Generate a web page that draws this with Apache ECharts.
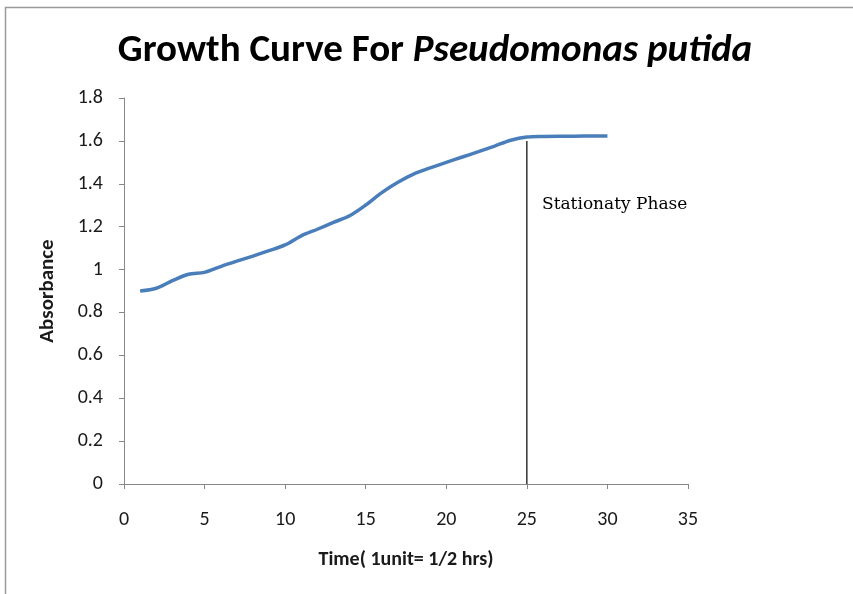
<!DOCTYPE html>
<html>
<head>
<meta charset="UTF-8">
<title>Growth Curve</title>
<script src="https://cdn.jsdelivr.net/npm/echarts@6/dist/echarts.min.js"></script>
<style>
  body { margin: 0; background: #fff; }
  #container { width: 853px; height: 594px; }
</style>
</head>
<body>
<div id="container"></div>
<script>
// time units (1 unit = 1/2 hr) and absorbance
var times = [1, 2, 3, 4, 5, 6, 7, 8, 9, 10, 11, 12, 13, 14, 15, 16, 17, 18, 19, 20, 21, 22, 23, 24, 25, 26, 27, 28, 29, 30];
var absorbance = [0.90, 0.913, 0.948, 0.978, 0.987, 1.014, 1.039, 1.063, 1.088, 1.115, 1.157, 1.188, 1.22, 1.251, 1.301, 1.359, 1.407, 1.446, 1.474, 1.50, 1.525, 1.55, 1.576, 1.603, 1.618, 1.621, 1.622, 1.622, 1.623, 1.623];
var phaseX = [25, 25];
var phaseY = [0, 1.6];
var xTicks = [0, 5, 10, 15, 20, 25, 30, 35];
var yTicks = [0, 0.2, 0.4, 0.6, 0.8, 1, 1.2, 1.4, 1.6, 1.8];

var font = "Carlito, 'Liberation Sans Narrow', 'Open Sans', sans-serif";
var chart = echarts.init(document.getElementById('container'));

var curve = times.map(function (t, i) { return [t, absorbance[i]]; });
var phase = phaseX.map(function (t, i) { return [t, phaseY[i]]; });

chart.setOption({
    backgroundColor: '#fff',
    animation: false,
    title: {
        text: '{n|Growth Curve For }{i|Pseudomonas putida}',
        left: 430,
        textAlign: 'center',
        top: 27,
        textStyle: {
            rich: {
                n: { fontFamily: font, fontSize: 39, fontWeight: 'bold', color: '#000' },
                i: { fontFamily: font, fontSize: 39, fontWeight: 'bold', fontStyle: 'italic', color: '#000' }
            }
        }
    },
    grid: { left: 124, right: 165, top: 98, bottom: 110 },
    xAxis: {
        type: 'value',
        min: 0, max: 35, interval: 5,
        name: 'Time( 1unit= 1/2 hrs)',
        nameLocation: 'middle',
        nameGap: 66,
        nameTextStyle: { fontFamily: font, fontSize: 20, fontWeight: 'bold', color: '#1a1a1a' },
        axisLine: { lineStyle: { color: '#888', width: 1 } },
        axisTick: { show: true, length: 5, lineStyle: { color: '#888' } },
        axisLabel: {
            margin: 26, fontFamily: font, fontSize: 20, color: '#1a1a1a',
            formatter: function (v) { return xTicks.indexOf(v) >= 0 ? String(v) : ''; }
        },
        splitLine: { show: false }
    },
    yAxis: {
        type: 'value',
        min: 0, max: 1.8, interval: 0.2,
        name: 'Absorbance',
        nameLocation: 'middle',
        nameGap: 66,
        nameTextStyle: { fontFamily: font, fontSize: 21, fontWeight: 'bold', color: '#1a1a1a' },
        axisLine: { show: true, lineStyle: { color: '#888', width: 1 } },
        axisTick: { show: true, length: 5, lineStyle: { color: '#888' } },
        axisLabel: {
            margin: 21, fontFamily: font, fontSize: 20, color: '#1a1a1a',
            formatter: function (v) {
                var r = Math.round(v * 10) / 10;
                return yTicks.indexOf(r) >= 0 ? String(r) : '';
            }
        },
        splitLine: { show: false }
    },
    series: [{
        type: 'line',
        data: curve,
        smooth: 0.3,
        symbol: 'none',
        lineStyle: { color: '#4a7ebb', width: 3.5 },
        z: 3
    }, {
        type: 'line',
        data: phase,
        symbol: 'none',
        lineStyle: { color: '#000', width: 1.2 },
        z: 2
    }],
    graphic: [{
        type: 'rect',
        shape: { x: 5.5, y: 7.5, width: 900, height: 700 },
        style: { fill: 'none', stroke: '#9a9a9a', lineWidth: 1.5 },
        silent: true
    }, {
        type: 'text',
        left: 542, top: 196,
        style: {
            text: 'Stationaty Phase',
            fontFamily: "'DejaVu Serif', 'Liberation Serif', serif",
            fontSize: 17,
            fill: '#000'
        }
    }]
});
</script>
</body>
</html>
